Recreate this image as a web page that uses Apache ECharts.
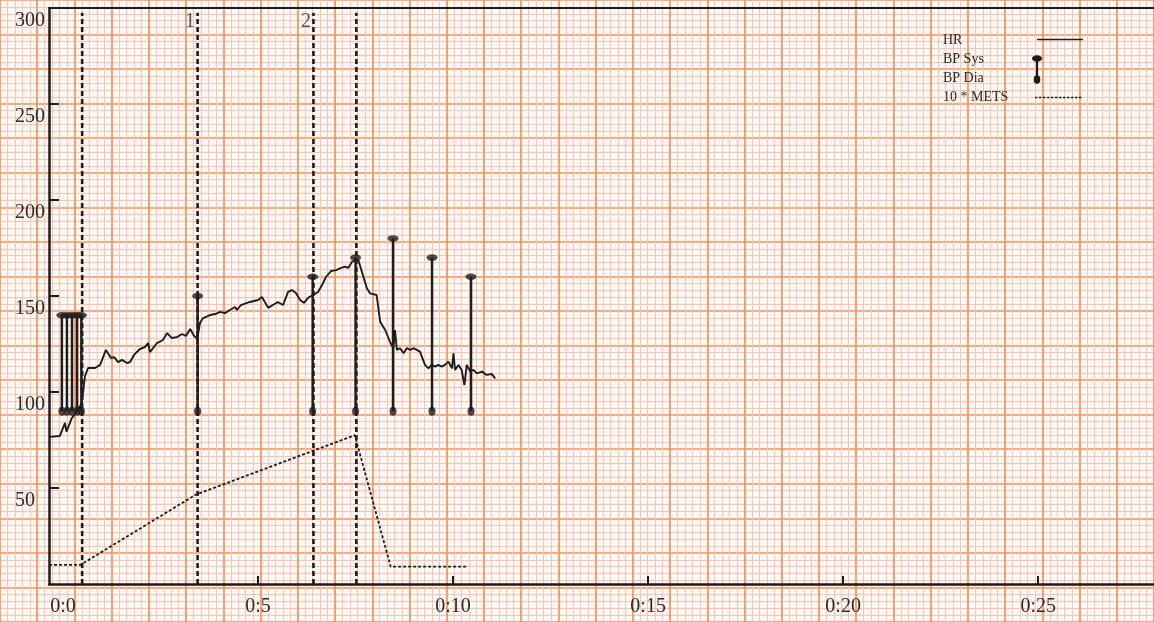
<!DOCTYPE html>
<html>
<head>
<meta charset="utf-8">
<script src="https://cdn.jsdelivr.net/npm/echarts@6/dist/echarts.min.js"></script>
<style>
html,body{margin:0;padding:0;background:#fdf8f4;}
#chart{width:1154px;height:622px;}
</style>
</head>
<body>
<div id="chart"></div>
<script>
// ---- data (time in minutes) ----
const hrTime = [-0.36,-0.08,0.05,0.09,0.22,0.35,0.48,0.56,0.64,0.82,0.95,1.10,1.23,1.31,1.41,1.51,1.64,1.72,1.82,1.97,2.10,2.18,2.23,2.31,2.41,2.56,2.67,2.79,2.92,3.05,3.15,3.26,3.36,3.44,3.51,3.59,3.77,3.90,4.03,4.15,4.28,4.41,4.46,4.56,4.79,5.00,5.10,5.26,5.38,5.51,5.64,5.77,5.87,5.97,6.08,6.18,6.28,6.41,6.54,6.64,6.74,6.87,7.00,7.13,7.23,7.31,7.41,7.57,7.70,7.79,7.87,8.04,8.13,8.26,8.38,8.47,8.51,8.56,8.64,8.73,8.81,8.90,8.98,9.07,9.15,9.28,9.37,9.45,9.54,9.62,9.71,9.79,9.88,9.97,10.01,10.05,10.14,10.22,10.29,10.35,10.44,10.52,10.61,10.74,10.86,10.99,11.08];
const hrValue = [76.6,77.1,83.9,79.3,86.3,89.7,94.1,108.0,112.5,112.5,114.1,121.9,117.7,118.2,115.6,116.7,115.1,115.6,119.3,122.4,123.4,125.5,120.8,122.9,125.5,127.1,130.7,128.1,128.6,130.2,129.2,132.8,129.2,127.6,135.9,138.5,140.1,140.6,141.7,141.1,142.7,144.3,142.7,145.3,146.9,147.9,149.5,143.8,145.3,146.9,145.3,152.1,153.1,151.6,147.9,146.4,149.0,150.5,152.1,155.7,159.9,163.0,163.5,164.6,165.3,164.6,167.9,168.8,160.1,154.0,151.4,150.5,136.6,132.3,126.2,122.8,132.3,121.9,122.8,120.2,122.8,121.9,122.8,121.9,121.0,114.1,112.3,114.1,113.2,114.1,113.2,114.1,115.8,112.3,120.2,111.5,114.1,111.5,103.6,114.1,110.6,111.5,109.7,110.6,108.9,109.4,107.1];

const bpTime = [-0.03,0.10,0.23,0.36,0.47,3.45,6.40,7.50,8.46,9.46,10.46];
const bpSys  = [140,140,140,140,140,150,160,170,180,170,160];
const bpDia  = [90,90,90,90,90,90,90,90,90,90,90];

const metsTime  = [-0.36,0.45,3.40,7.48,8.40,10.38];
const metsValue = [10,10,46.5,77.5,9,9];

const stageTimes = [0.49,3.45,6.42,7.52];
const stageLabelTimes = [3.45,6.42];
const stageLabelText = ['1','2'];

const xLabelValues = [0,5,10,15,20,25];
const xTickValues = [5,10,15,20,25];
const yTickValues = [50,100,150,200,250];
const yLabelValues = [50,100,150,200,250,300];

const legendNames = ['HR','BP Sys','BP Dia','10 * METS'];

// ---- chart ----
const INK = '#1d1d1d';
const FONT = 'Liberation Serif';
const chart = echarts.init(document.getElementById('chart'), null, {renderer:'canvas'});

const zip2 = (a,b) => a.map((v,i)=>[v,b[i]]);

const option = {
  backgroundColor: '#fdf8f4',
  animation: false,
  grid: [
    {left: -1.5, top: -23.7, width: 38.25*31, height: 37.9*18, show: false},
    {left: 49, top: 8, right: 0, bottom: 38, show: false}
  ],
  xAxis: [
    {gridIndex:0, type:'value', min:-2, max:29, interval:1, z:0,
     axisLine:{show:false}, axisTick:{show:false}, axisLabel:{show:false},
     splitLine:{show:true, lineStyle:{color:'#f4925a', width:1.7}},
     minorTick:{show:false, splitNumber:5},
     minorSplitLine:{show:true, lineStyle:{color:'#f6c5b7', width:1}}},
    {gridIndex:1, type:'value', min:-0.36, max:27.97, z:4,
     axisLine:{show:true, onZero:false, lineStyle:{color:INK, width:2.5}},
     axisTick:{show:true, inside:true, length:8, customValues:xTickValues, lineStyle:{color:INK, width:2}},
     axisLabel:{show:true, customValues:xLabelValues, formatter:v=>'0:'+v, margin:13,
                fontFamily:FONT, fontSize:20, color:'#2a2a2a'},
     splitLine:{show:false}},
    {gridIndex:1, type:'value', position:'top', min:-0.36, max:27.97, z:4,
     axisLine:{show:true, onZero:false, lineStyle:{color:INK, width:2}},
     axisTick:{show:false}, axisLabel:{show:false}, splitLine:{show:false}}
  ],
  yAxis: [
    {gridIndex:0, type:'value', min:0, max:18, interval:1, z:0,
     axisLine:{show:false}, axisTick:{show:false}, axisLabel:{show:false},
     splitLine:{show:true, lineStyle:{color:'#f4925a', width:1.7}},
     minorTick:{show:false, splitNumber:5},
     minorSplitLine:{show:true, lineStyle:{color:'#f6c5b7', width:1}}},
    {gridIndex:1, type:'value', min:0, max:300, interval:50, z:4,
     axisLine:{show:true, onZero:false, lineStyle:{color:INK, width:2.5}},
     axisTick:{show:true, inside:true, length:10, customValues:yTickValues, lineStyle:{color:INK, width:2}},
     axisLabel:{show:true, customValues:yLabelValues, align:'left', margin:34,
                verticalAlign:'top', lineHeight:26,
                fontFamily:FONT, fontSize:20, color:'#2a2a2a'},
     splitLine:{show:false}}
  ],
  series: [
    {name:'stages', type:'custom', xAxisIndex:1, yAxisIndex:1, z:5,
     data: stageTimes.map(t=>[t]),
     encode:{x:0},
     renderItem:(params, api)=>{
       const p0 = api.coord([api.value(0), 0]);
       const p1 = api.coord([api.value(0), 297.5]);
       return {type:'line', shape:{x1:p0[0], y1:p0[1], x2:p1[0], y2:p1[1]},
               style:{stroke:INK, lineWidth:2.6, lineDash:[5,3]}};
     }},
    {name:'10 * METS', type:'line', xAxisIndex:1, yAxisIndex:1, z:6,
     data: zip2(metsTime, metsValue), showSymbol:false, symbol:'none',
     lineStyle:{color:INK, width:1.8, type:[3,2]}},
    {name:'HR', type:'line', xAxisIndex:1, yAxisIndex:1, z:7,
     data: zip2(hrTime, hrValue), showSymbol:false, symbol:'none',
     lineStyle:{color:INK, width:1.9}},
    {name:'BP', type:'custom', xAxisIndex:1, yAxisIndex:1, z:8,
     data: bpTime.map((t,i)=>[t,bpSys[i],bpDia[i]]),
     encode:{x:0, y:[1,2]},
     renderItem:(params, api)=>{
       const t = api.value(0);
       const p0 = api.coord([t, api.value(2)]);
       const p1 = api.coord([t, api.value(1)]);
       return {type:'line', shape:{x1:p0[0], y1:p0[1], x2:p1[0], y2:p1[1]},
               style:{stroke:INK, lineWidth:2.5}};
     }},
    {name:'BP Sys', type:'scatter', xAxisIndex:1, yAxisIndex:1, z:9,
     data: zip2(bpTime, bpSys), symbol:'circle', symbolSize:[11,6.5],
     itemStyle:{color:INK}},
    {name:'BP Dia', type:'scatter', xAxisIndex:1, yAxisIndex:1, z:9,
     data: zip2(bpTime, bpDia), symbol:'circle', symbolSize:[7,9],
     itemStyle:{color:INK}},
    {name:'stageLabels', type:'scatter', xAxisIndex:1, yAxisIndex:1, z:9,
     data: stageLabelTimes.map(t=>[t,293]), symbolSize:0,
     label:{show:true, position:'inside', offset:[-7.5,0],
            formatter:p=>stageLabelText[p.dataIndex],
            fontFamily:FONT, fontSize:20, color:'#2a2a2a'}}
  ],
  graphic: {elements: [
    {type:'text', z:100, left:943, top:33, style:{text:legendNames[0], font:'14px "Liberation Serif"', fill:'#2a2a2a'}},
    {type:'text', z:100, left:943, top:52, style:{text:legendNames[1], font:'14px "Liberation Serif"', fill:'#2a2a2a'}},
    {type:'text', z:100, left:943, top:71, style:{text:legendNames[2], font:'14px "Liberation Serif"', fill:'#2a2a2a'}},
    {type:'text', z:100, left:943, top:90, style:{text:legendNames[3], font:'14px "Liberation Serif"', fill:'#2a2a2a'}},
    {type:'line', z:100, shape:{x1:1037, y1:39.5, x2:1083, y2:39.5}, style:{stroke:INK, lineWidth:1.6}},
    {type:'line', z:100, shape:{x1:1037, y1:58.5, x2:1037, y2:79}, style:{stroke:INK, lineWidth:2.2}},
    {type:'circle', z:100, x:1037, y:58.5, scaleX:5, scaleY:3.3, shape:{cx:0, cy:0, r:1}, style:{fill:INK}},
    {type:'circle', z:100, x:1037, y:79.5, scaleX:3.3, scaleY:4.3, shape:{cx:0, cy:0, r:1}, style:{fill:INK}},
    {type:'line', z:100, shape:{x1:1035, y1:97.5, x2:1083, y2:97.5}, style:{stroke:INK, lineWidth:1.5, lineDash:[2.5,1.5]}}
  ]}
};
chart.setOption(option);
</script>
</body>
</html>
